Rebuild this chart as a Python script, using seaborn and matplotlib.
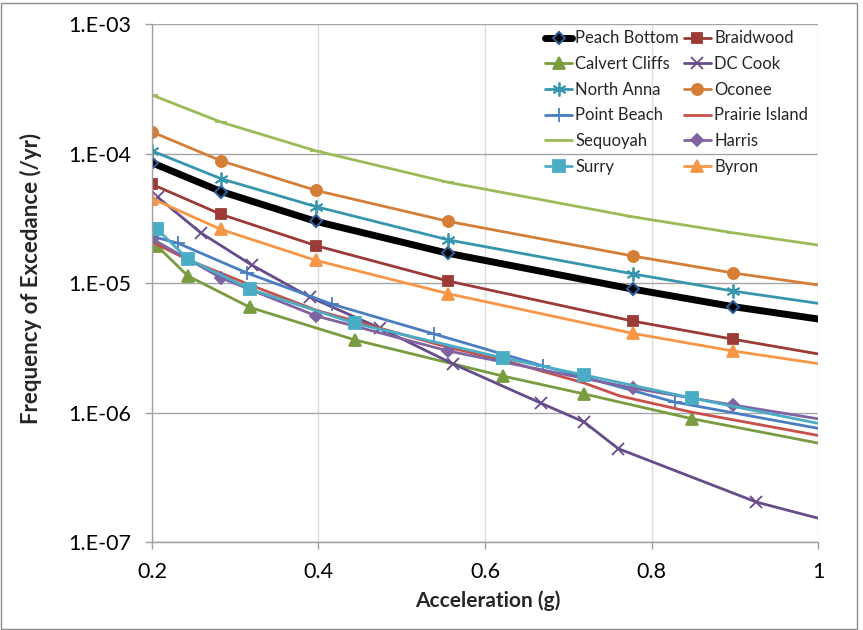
import matplotlib
matplotlib.use('Agg')
import matplotlib.pyplot as plt
from matplotlib.lines import Line2D
from matplotlib.patches import Rectangle
from matplotlib.ticker import FixedLocator, FuncFormatter, NullLocator
import numpy as np
import seaborn as sns

# Data (acceleration in g, annual frequency of exceedance)
x_main = [0.2, 0.283, 0.397, 0.556, 0.778, 0.898, 1.0]
peach_bottom = [8.5e-5, 5.1e-5, 3.0e-5, 1.7e-5, 9.0e-6, 6.6e-6, 5.3e-6]
braidwood = [5.8e-5, 3.4e-5, 1.95e-5, 1.04e-5, 5.1e-6, 3.7e-6, 2.85e-6]
north_anna = [1.05e-4, 6.4e-5, 3.9e-5, 2.16e-5, 1.18e-5, 8.7e-6, 7.0e-6]
oconee = [1.47e-4, 8.8e-5, 5.2e-5, 3.0e-5, 1.62e-5, 1.2e-5, 9.7e-6]
sequoyah = [2.83e-4, 1.75e-4, 1.05e-4, 6.0e-5, 3.25e-5, 2.45e-5, 1.97e-5]
harris = [2.2e-5, 1.1e-5, 5.6e-6, 3.0e-6, 1.55e-6, 1.15e-6, 9.0e-7]
byron = [4.5e-5, 2.6e-5, 1.5e-5, 8.3e-6, 4.1e-6, 3.0e-6, 2.4e-6]

x_calvert = [0.206, 0.243, 0.318, 0.444, 0.622, 0.719, 0.849, 1.0]
calvert_cliffs = [1.94e-5, 1.14e-5, 6.5e-6, 3.65e-6, 1.92e-6, 1.4e-6, 9.0e-7, 5.85e-7]
surry = [2.62e-5, 1.54e-5, 9.0e-6, 4.9e-6, 2.65e-6, 1.96e-6, 1.3e-6, 8.3e-7]

x_point_beach = [0.2, 0.231, 0.314, 0.416, 0.539, 0.670, 0.828, 1.0]
point_beach = [2.3e-5, 2.04e-5, 1.2e-5, 6.9e-6, 4.06e-6, 2.3e-6, 1.21e-6, 7.6e-7]

x_dc_cook = [0.207, 0.259, 0.320, 0.390, 0.474, 0.562, 0.667, 0.719, 0.760, 0.926, 1.0]
dc_cook = [4.6e-5, 2.44e-5, 1.38e-5, 7.8e-6, 4.5e-6, 2.38e-6, 1.19e-6, 8.5e-7, 5.3e-7, 2.05e-7, 1.54e-7]

x_prairie = [0.2, 0.244, 0.318, 0.397, 0.474, 0.556, 0.622, 0.719, 0.762, 0.849, 1.0]
prairie_island = [2.08e-5, 1.51e-5, 9.7e-6, 6.2e-6, 4.5e-6, 3.2e-6, 2.55e-6, 1.7e-6, 1.35e-6, 1.01e-6, 6.7e-7]

x_ticks = [0.2, 0.4, 0.6, 0.8, 1.0]
y_ticks = [1e-7, 1e-6, 1e-5, 1e-4, 1e-3]

# name, x, y, color, marker, markersize, linewidth
series = [
    ('Peach Bottom', x_main, peach_bottom, 'black', 'D', 6.5, 5.0),
    ('Braidwood', x_main, braidwood, '#9B3A37', 's', 7.5, 2.0),
    ('Calvert Cliffs', x_calvert, calvert_cliffs, '#789C3F', '^', 8.5, 2.0),
    ('DC Cook', x_dc_cook, dc_cook, '#674C8C', 'x', 8, 2.0),
    ('North Anna', x_main, north_anna, '#3796AD', (6, 2, 0), 10, 2.0),
    ('Oconee', x_main, oconee, '#D47E38', 'o', 8, 2.0),
    ('Point Beach', x_point_beach, point_beach, '#4A7EC0', '+', 10, 2.0),
    ('Prairie Island', x_prairie, prairie_island, '#C8504B', None, 0, 2.0),
    ('Sequoyah', x_main, sequoyah, '#9BBB59', '_', 8, 2.0),
    ('Harris', x_main, harris, '#8064A2', 'D', 6, 2.0),
    ('Surry', x_calvert, surry, '#4BACC6', 's', 8, 2.0),
    ('Byron', x_main, byron, '#F79646', '^', 8.5, 2.0),
]

sns.set_theme(style='white')
plt.rcParams['font.family'] = ['Lato', 'DejaVu Sans']

fig, ax = plt.subplots(figsize=(8.63, 6.3), dpi=100)
fig.subplots_adjust(left=0.1761, right=0.9479, top=0.9619, bottom=0.1389)

handles = {}
for name, xs, ys, color, marker, ms, lw in series:
    kw = dict(color=color, linewidth=lw)
    if marker is not None:
        kw.update(marker=marker, markersize=ms, markevery=list(range(len(xs) - 1)),
                  markeredgewidth=1.3)
        if name == 'Peach Bottom':
            kw.update(markerfacecolor='black', markeredgecolor='#2E5C9A', markeredgewidth=1.5)
        elif marker in ('x', '+', '_', (6, 2, 0)):
            kw.update(markeredgecolor=color)
        else:
            kw.update(markeredgecolor=color, markerfacecolor=color)
    sns.lineplot(x=xs, y=ys, ax=ax, sort=False, errorbar=None, **kw)
    hkw = {k: v for k, v in kw.items() if k != 'markevery'}
    handles[name] = Line2D([], [], **hkw)

ax.set_yscale('log')
ax.set_xlim(0.2, 1.0)
ax.set_ylim(1e-7, 1e-3)
ax.xaxis.set_major_locator(FixedLocator(x_ticks))
ax.yaxis.set_major_locator(FixedLocator(y_ticks))
ax.yaxis.set_minor_locator(NullLocator())
ax.xaxis.set_major_formatter(FuncFormatter(lambda v, p: f'{v:g}'))
ax.yaxis.set_major_formatter(FuncFormatter(lambda v, p: f'1.E-{int(round(-np.log10(v))):02d}'))

ax.yaxis.grid(True, color='#A6A6A6', linewidth=1.0)
ax.xaxis.grid(True, color='#DCDCDC', linewidth=1.0)
ax.set_axisbelow(True)
for side in ['top', 'right']:
    ax.spines[side].set_visible(False)
for side in ['left', 'bottom']:
    ax.spines[side].set_color('#A0A0A0')
    ax.spines[side].set_linewidth(1.0)
ax.tick_params(axis='both', which='major', direction='out', length=5, width=1,
               color='#A0A0A0', labelsize=15.5, labelcolor='black', left=True, bottom=True)
ax.tick_params(axis='y', pad=10)
ax.tick_params(axis='x', pad=9)

ax.set_xlabel('Acceleration (g)', fontsize=15, fontweight='bold')
ax.set_ylabel('Frequency of Excedance (/yr)', fontsize=16, fontweight='bold')
ax.xaxis.set_label_coords(0.504, -0.093)
ax.yaxis.set_label_coords(-0.165, 0.51)

# legend filled row-wise like the original: reorder for column-major layout
order = ['Peach Bottom', 'Calvert Cliffs', 'North Anna', 'Point Beach', 'Sequoyah', 'Surry',
         'Braidwood', 'DC Cook', 'Oconee', 'Prairie Island', 'Harris', 'Byron']
ax.legend([handles[n] for n in order], order, loc='upper left', bbox_to_anchor=(0.573, 1.01),
          ncol=2, frameon=False, fontsize=12, handlelength=1.6, handletextpad=0.2,
          columnspacing=0.3, labelspacing=0.58, borderpad=0.2)

fig.patches.append(Rectangle((0.0015, 0.002), 0.9915, 0.994, transform=fig.transFigure,
                             fill=False, edgecolor='#8C8C8C', linewidth=1.0))

fig.savefig('out.png', dpi=100)
